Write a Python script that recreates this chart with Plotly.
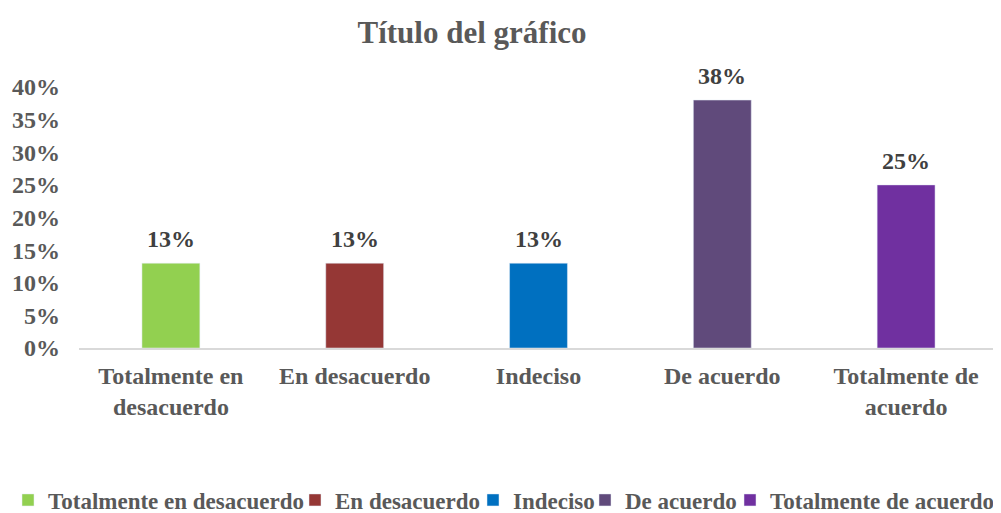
import plotly.graph_objects as go

categories = ["Totalmente en desacuerdo", "En desacuerdo", "Indeciso", "De acuerdo", "Totalmente de acuerdo"]
tick_labels = ["Totalmente en<br>desacuerdo", "En desacuerdo", "Indeciso", "De acuerdo", "Totalmente de<br>acuerdo"]
values = [0.13, 0.13, 0.13, 0.38, 0.25]
colors = ["#92D050", "#953735", "#0070C0", "#604A7B", "#7030A0"]
y_ticks = [0, 0.05, 0.10, 0.15, 0.20, 0.25, 0.30, 0.35, 0.40]

FONT = "Liberation Serif, Times New Roman, serif"
W, H = 993, 505          # page body has an 8px margin
legend_left_px = [8, 295, 473, 585, 730]   # left edge of each legend entry (page px)
OFF = 8

fig = go.Figure()
for i, (cat, tl, v, c) in enumerate(zip(categories, tick_labels, values, colors)):
    lg = "legend" if i == 0 else f"legend{i+1}"
    fig.add_trace(go.Bar(
        x=[tl], y=[v], name=f"<b>{cat}</b>", marker_color=c, width=0.315, legend=lg,
    ))
    fig.add_annotation(
        x=tl, y=v, text=f"<b>{v:.0%}</b>", showarrow=False,
        yanchor="bottom", yshift=9,
        font=dict(family=FONT, size=24, color="#404040"),
    )

legend_common = dict(orientation="h", xref="container", yref="container",
                     xanchor="left", yanchor="middle", y=1 - (500 - OFF) / H,
                     font=dict(family=FONT, size=23, color="#595959"),
                     itemwidth=30, bgcolor="rgba(0,0,0,0)")
legends = {}
for i, lx in enumerate(legend_left_px):
    key = "legend" if i == 0 else f"legend{i+1}"
    legends[key] = dict(legend_common, x=(lx - OFF) / W)

fig.update_layout(
    width=W, height=H,
    barmode="overlay",
    plot_bgcolor="white", paper_bgcolor="white",
    margin=dict(l=79 - OFF, r=3, t=87 - OFF, b=H - (348 - OFF), autoexpand=False),
    title=dict(text="<b>Título del gráfico</b>", x=(472 - OFF) / W, xanchor="center",
               yref="container", y=1 - (32 - OFF) / H, yanchor="middle",
               font=dict(family=FONT, size=31, color="#595959")),
    showlegend=True,
    **legends,
)
fig.update_xaxes(
    categoryorder="array", categoryarray=tick_labels,
    ticktext=[f"<b>{t}</b>".replace("<br>", "</b><br><b>") for t in tick_labels], tickvals=tick_labels,
    showline=True, linecolor="#D9D9D9", linewidth=2, ticks="",
    showgrid=False, ticklabelstandoff=5, automargin=False,
    tickfont=dict(family=FONT, size=24, color="#595959"),
)
fig.update_yaxes(
    range=[0, 0.40], tickvals=y_ticks, ticktext=[f"<b>{t:.0%}</b>" for t in y_ticks],
    showgrid=False, zeroline=False, showline=False, ticks="",
    ticklabelstandoff=18, automargin=False,
    tickfont=dict(family=FONT, size=24, color="#595959"),
)

fig.write_html("out.html")
